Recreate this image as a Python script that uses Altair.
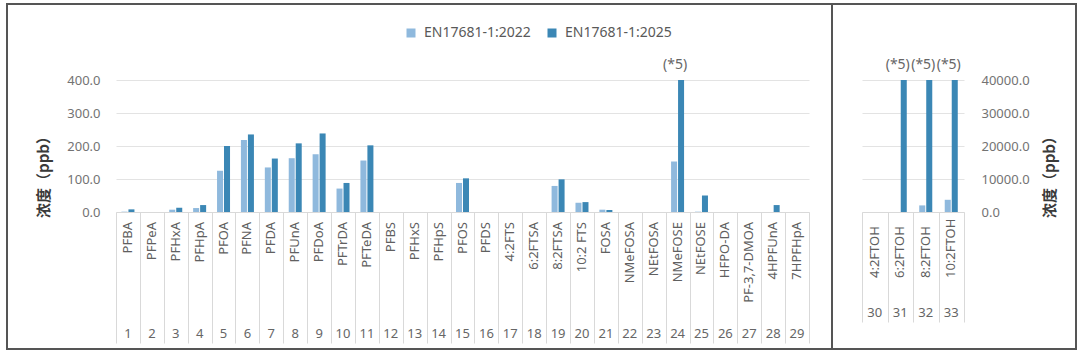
import altair as alt
import pandas as pd

series = ["EN17681-1:2022", "EN17681-1:2025"]
colors = ["#8FB9DD", "#3B87B5"]

left_cats = ["PFBA", "PFPeA", "PFHxA", "PFHpA", "PFOA", "PFNA", "PFDA", "PFUnA", "PFDoA",
             "PFTrDA", "PFTeDA", "PFBS", "PFHxS", "PFHpS", "PFOS", "PFDS", "4:2FTS", "6:2FTSA",
             "8:2FTSA", "10:2 FTS", "FOSA", "NMeFOSA", "NEtFOSA", "NMeFOSE", "NEtFOSE",
             "HFPO-DA", "PF-3,7-DMOA", "4HPFUnA", "7HPFHpA"]
left_ids = ["1", "2", "3", "4", "5", "6", "7", "8", "9", "10", "11", "12", "13", "14", "15",
            "16", "17", "18", "19", "20", "21", "22", "23", "24", "25", "26", "27", "28", "29"]
left_2022 = [1, 0, 7, 12, 125, 218, 135, 163, 175, 71, 156, 0, 0, 0, 88, 0, 0, 0, 79, 28, 7,
             0, 0, 153, 1, 0, 0, 0, 0]
left_2025 = [8, 0, 13, 21, 200, 235, 162, 208, 238, 88, 202, 0, 0, 0, 102, 0, 0, 0, 99, 30, 6,
             0, 0, 400, 50, 0, 0, 21, 0]
left_notes = ["", "", "", "", "", "", "", "", "", "", "", "", "", "", "", "", "", "", "", "",
              "", "", "", "(*5)", "", "", "", "", ""]
left_ticks = [0, 100, 200, 300, 400]

right_cats = ["4:2FTOH", "6:2FTOH", "8:2FTOH", "10:2FTOH"]
right_ids = ["30", "31", "32", "33"]
right_2022 = [0, 0, 2000, 3700]
right_2025 = [0, 40000, 40000, 40000]
right_notes = ["", "(*5)", "(*5)", "(*5)"]
right_ticks = [0, 10000, 20000, 30000, 40000]

y_title = "浓度（ppb）"
LATIN = "Noto Sans"
CJK = "Noto Sans CJK SC"
H = 132


def panel(cats, ids, v22, v25, notes, ticks, W, tick_size, cat_y, cat_align,
          id_y, yorient, title_x, label_pad_y, off_pad, frame):
    n = len(cats)
    df = pd.DataFrame({
        "cat": cats + cats,
        "series": [series[0]] * n + [series[1]] * n,
        "value": v22 + v25,
        "note": [""] * n + notes,
    })
    xenc = alt.X(
        "cat:N", sort=cats, title=None,
        scale=alt.Scale(paddingInner=0, paddingOuter=0),
        axis=alt.Axis(labels=False, tickBand="extent", tickSize=tick_size,
                      tickColor="#d9d9d9", ticks=True, domainColor="#d9d9d9", grid=False),
    )
    xoff = alt.XOffset("series:N", sort=series,
                       scale=alt.Scale(paddingInner=0.14, paddingOuter=off_pad))
    yenc = alt.Y(
        "value:Q", title=y_title,
        scale=alt.Scale(domain=[ticks[0], ticks[-1]], nice=False),
        axis=alt.Axis(orient=yorient, values=ticks, format=".1f", domain=False, ticks=False,
                      labelColor="#737373", labelFontSize=13, labelFont=LATIN,
                      labelPadding=label_pad_y, gridColor="#e3e3e3",
                      titleFont=CJK, titleFontSize=15, titleFontWeight="bold",
                      titleColor="#3a3a3a", titleAngle=270, titleX=title_x, titleY=93,
                      titleAlign="center", titleBaseline="middle"),
    )
    color = alt.Color("series:N", sort=series, title=None,
                      scale=alt.Scale(domain=series, range=colors),
                      legend=alt.Legend(orient="none", legendX=288, legendY=-54,
                                        direction="horizontal", symbolType="square",
                                        symbolSize=81, symbolStrokeWidth=0, labelFontSize=14,
                                        labelFont=LATIN, labelColor="#595959",
                                        labelOffset=6, columnPadding=14, padding=0))
    base = alt.Chart(df)
    bars = base.mark_bar().encode(x=xenc, xOffset=xoff, y=yenc, color=color)
    note_txt = base.transform_filter("datum.note != ''").mark_text(
        dy=-15, dx=-6, fontSize=14, color="#666666", font=LATIN, baseline="middle"
    ).encode(x=xenc, xOffset=xoff, y=yenc, text="note:N")
    lab = pd.DataFrame({"cat": cats, "id": ids})
    cat_txt = alt.Chart(lab).mark_text(
        fontSize=13, color="#606060", font=LATIN, angle=270, align=cat_align,
        baseline="middle"
    ).encode(x=xenc, y=alt.value(cat_y), text="cat:N")
    id_txt = alt.Chart(lab).mark_text(
        fontSize=13, color="#666666", font=LATIN, baseline="middle"
    ).encode(x=xenc, y=alt.value(id_y), text="id:N")
    fr = alt.Chart(pd.DataFrame({"f": [0]})).mark_rect(
        fill="white", fillOpacity=0, stroke="#555555", strokeWidth=2
    ).encode(x=alt.value(frame[0]), x2=alt.value(frame[1]),
             y=alt.value(frame[2]), y2=alt.value(frame[3]))
    return alt.layer(bars, note_txt, cat_txt, id_txt, fr).properties(width=W, height=H)


left = panel(left_cats, left_ids, left_2022, left_2025, left_notes, left_ticks,
             W=693, tick_size=131, cat_y=H + 10, cat_align="right", id_y=254,
             yorient="left", title_x=-73, label_pad_y=16, off_pad=0.78,
             frame=(-109, 716, -76, 269))
right = panel(right_cats, right_ids, right_2022, right_2025, right_notes, right_ticks,
              W=102, tick_size=110, cat_y=H + 66, cat_align="left", id_y=233,
              yorient="right", title_x=85, label_pad_y=17, off_pad=0.89,
              frame=(-30, 214, -76, 269))

chart = alt.hconcat(left, right, spacing=53, bounds="flush").resolve_scale(
    x="independent", y="independent", xOffset="independent"
).properties(
    padding={"left": 6, "top": 3, "right": 3, "bottom": 4},
    background="white",
).configure_view(strokeWidth=0)

chart.save("out.html", embed_options={"renderer": "svg", "actions": False})
